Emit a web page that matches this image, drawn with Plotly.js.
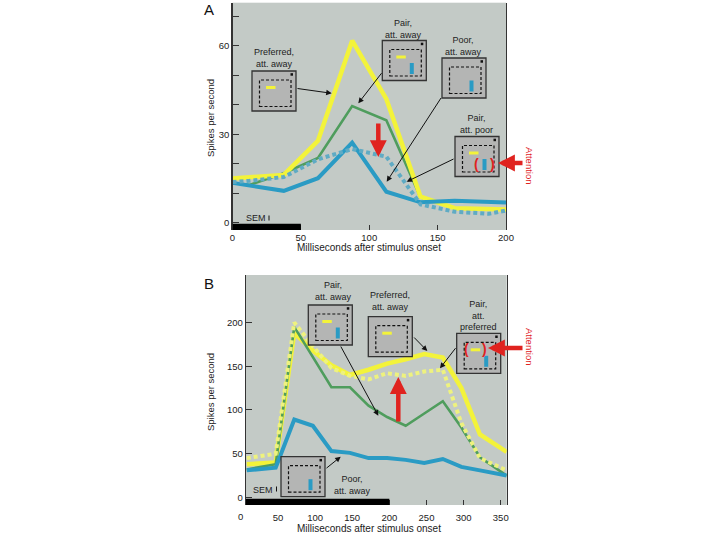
<!DOCTYPE html>
<html>
<head>
<meta charset="utf-8">
<script src="https://cdn.plot.ly/plotly-3.0.1.min.js"></script>
<style>
  html, body { margin: 0; padding: 0; background: #fff; }
  #chart { width: 720px; height: 540px; }
</style>
</head>
<body>
<div id="chart"></div>
<script>
// Panel A: time bins (ms) and firing rates (spikes/s)
var timeA = [0, 12.5, 37.5, 62.5, 87.5, 112.5, 137.5, 162.5, 187.5, 200];
var prefAwayA = [15, 15.4, 16.2, 27.8, 61.8, 42, 8.8, 4.9, 4.5, 4.5];
var pairAwayA = [13.5, 12.8, 16.8, 22, 39.6, 34.8, 8.6, 4.9, 4.5, 4.5];
var poorAwayA = [13.5, 12.5, 10.8, 15.1, 27.2, 10.5, 6.9, 7.4, 7.2, 6.8];
var pairPoorA = [13.8, 14.2, 15.5, 21.5, 25, 22.4, 6.2, 3.7, 3, 4.1];

// Panel B
var timeB = [8, 47, 72, 97, 122, 147, 172, 197, 222, 247, 272, 297, 322, 358];
var prefAwayB = [38, 40, 188, 168, 151, 140, 146, 153, 158, 164, 160, 125, 72, 52];
var pairAwayB = [32, 38, 195, 160, 126, 126, 105, 92, 82, 96, 110, 80, 46, 25];
var poorAwayB = [31, 34, 89, 82, 53, 51, 45, 45, 43, 39.5, 44, 35, 31, 25];
var pairPrefB = [45, 50, 200, 173, 148, 139, 135, 142, 139, 144, 146, 85, 45, 31];

// stimulus bars (ms)
var stimA = [0, 50];
var stimB = [0, 200];

var ticksA = [0, 50, 100, 150, 200];
var ticksB = [50, 100, 150, 200, 250, 300, 350];

var W = 720, H = 540;
var FONT = 'Liberation Sans, Arial, sans-serif';
var YELLOW = '#f3f33a', GREEN = '#4f9d5d', BLUE = '#2a9bc4',
    BLUE_DOT = '#5fabc4', YELLOW_DOT = '#eef27e', RED = '#e0231f';

function px(x) { return x / W; }
function py(y) { return 1 - y / H; }

function line(x, y, color, width, dash, xa, ya) {
  return {
    x: x, y: y, xaxis: xa, yaxis: ya, type: 'scatter', mode: 'lines',
    line: {color: color, width: width, dash: dash || 'solid'},
    hoverinfo: 'skip'
  };
}

var data = [
  line(timeA, pairAwayA, GREEN, 2.6, 'solid', 'x', 'y'),
  line(timeA, prefAwayA, YELLOW, 4.5, 'solid', 'x', 'y'),
  line(timeA, poorAwayA, BLUE, 4, 'solid', 'x', 'y'),
  line(timeA, pairPoorA, BLUE_DOT, 4, '4px,3px', 'x', 'y'),
  line(timeB, prefAwayB, YELLOW, 4.5, 'solid', 'x2', 'y2'),
  line(timeB, pairAwayB, GREEN, 2.6, 'solid', 'x2', 'y2'),
  line(timeB, pairPrefB, YELLOW_DOT, 4, '4px,3px', 'x2', 'y2'),
  line(timeB, poorAwayB, BLUE, 4, 'solid', 'x2', 'y2')
];

var shapes = [];
var annotations = [];

function rect(x0, y0, x1, y1, fill, lineColor, lw, dash) {
  shapes.push({
    type: 'rect', xref: 'paper', yref: 'paper',
    x0: px(x0), x1: px(x1), y0: py(y1), y1: py(y0),
    fillcolor: fill || 'rgba(0,0,0,0)',
    line: {color: lineColor || 'rgba(0,0,0,0)', width: lw || 0, dash: dash || 'solid'},
    layer: 'above'
  });
}

function text(t, cx, cy, size, opts) {
  var a = {
    xref: 'paper', yref: 'paper', x: px(cx), y: py(cy),
    text: t, showarrow: false, xanchor: 'center', yanchor: 'middle',
    font: {family: FONT, size: size || 9, color: '#222'}
  };
  for (var k in opts) a[k] = opts[k];
  annotations.push(a);
}

function arrow(hx, hy, tx, ty, color, width, size) {
  annotations.push({
    xref: 'paper', yref: 'paper', x: px(hx), y: py(hy),
    ax: tx - hx, ay: ty - hy, text: '', showarrow: true,
    arrowhead: 2, arrowsize: size || 1.1, arrowwidth: width || 1,
    arrowcolor: color || '#111', standoff: 0, startstandoff: 0
  });
}

var parenFont = {family: FONT, size: 14, color: RED, weight: 'bold'};

// little stimulus display insets
function inset(L, T, hasYellow, hasBlue, parens) {
  rect(L, T, L + 44, T + 40, '#b4b5b4', '#333', 1.3);
  rect(L + 7.5, T + 9, L + 39, T + 35.5, null, '#111', 1.2, '3px,2px');
  rect(L + 38.5, T + 2.2, L + 41, T + 4.7, '#111');
  if (hasYellow) rect(L + 14, T + 15, L + 23.5, T + 18, YELLOW);
  if (hasBlue) rect(L + 27.5, T + 22.5, L + 31.5, T + 33.5, BLUE);
  if (parens === 'blue') {
    text('(', L + 21, T + 27.5, 14, {font: parenFont});
    text(')', L + 37.5, T + 27.5, 14, {font: parenFont});
  } else if (parens === 'yellow') {
    text('(', L + 10, T + 16, 14, {font: parenFont});
    text(')', L + 27.5, T + 16, 14, {font: parenFont});
  }
}

// stimulus bars along the bottom of each panel
shapes.push({type: 'rect', xref: 'x', yref: 'y domain', x0: stimA[0], x1: stimA[1], y0: 0, y1: 0.027,
  fillcolor: '#000', line: {width: 0}, layer: 'above'});
shapes.push({type: 'rect', xref: 'x2', yref: 'y2 domain', x0: Math.max(stimB[0], 7), x1: stimB[1], y0: 0, y1: 0.027,
  fillcolor: '#000', line: {width: 0}, layer: 'above'});

// ---- panel A decorations
text('A', 209, 9, 15, {font: {family: FONT, size: 15, color: '#111'}});
text('Spikes per second', 210, 118, 9.5, {textangle: -90});
text('Milliseconds after stimulus onset', 369, 247, 10);
text('SEM', 256, 218, 9);
shapes.push({type: 'line', xref: 'paper', yref: 'paper', x0: px(269), x1: px(269), y0: py(215.5), y1: py(220.5),
  line: {color: '#111', width: 1}});

inset(252, 71, true, false);
text('Preferred,<br>att. away', 273.5, 58);
arrow(331.7, 93.3, 296, 88.3);

inset(382.3, 40.5, true, true);
text('Pair,<br>att. away', 403.5, 28.5);
arrow(358.3, 103.3, 382.7, 71.7);

inset(442, 58, false, true);
text('Poor,<br>att. away', 463.5, 45.5);
arrow(386.7, 181.7, 442, 96.5);

inset(455, 136.5, true, true, 'blue');
text('Pair,<br>att. poor', 476, 124);
arrow(406.7, 181.7, 455, 158.3);

arrow(378.3, 157, 378.3, 122, RED, 4.5, 0.75);
arrow(498, 163, 524, 163, RED, 4.5, 0.75);
text('Attention', 529, 166, 9.5, {textangle: 90, font: {family: FONT, size: 9.5, color: RED}});

// ---- panel B decorations
text('B', 209, 283, 15, {font: {family: FONT, size: 15, color: '#111'}});
text('Spikes per second', 210, 392, 9.5, {textangle: -90});
text('Milliseconds after stimulus onset', 369, 528, 10);
text('0', 241, 516.5, 9.5);
text('SEM', 262.5, 490, 9);
shapes.push({type: 'line', xref: 'paper', yref: 'paper', x0: px(276.5), x1: px(276.5), y0: py(486.5), y1: py(491.5),
  line: {color: '#111', width: 1}});

inset(308.3, 305, true, true);
text('Pair,<br>att. away', 333, 290.5);
arrow(378.3, 415.7, 340, 345);

inset(368.3, 316.7, true, false);
text('Preferred,<br>att. away', 389.5, 300.5);
arrow(427.3, 351, 412.7, 336);

inset(456.7, 333.3, true, true, 'yellow');
text('Pair,<br>att.<br>preferred', 478.5, 315.5);
arrow(440, 368.3, 456.7, 346.7);

inset(281, 456.7, false, true);
text('Poor,<br>att. away', 352.5, 484.5);
arrow(340.7, 456.7, 325, 469.3);

arrow(398.3, 377, 398.3, 423, RED, 4.5, 0.75);
arrow(488, 348, 524, 348, RED, 4.5, 0.75);
text('Attention', 530, 347, 9.5, {textangle: 90, font: {family: FONT, size: 9.5, color: RED}});

var axisFont = {family: FONT, size: 9.5, color: '#222'};

var layout = {
  width: W, height: H,
  margin: {l: 0, r: 0, t: 0, b: 0},
  paper_bgcolor: '#fff',
  plot_bgcolor: '#c3cac6',
  showlegend: false,
  font: {family: FONT, size: 9.5, color: '#222'},
  xaxis: {
    domain: [px(232.5), px(506)], range: [0, 200], anchor: 'y',
    tickvals: ticksA, ticks: 'inside', ticklen: 5, tickcolor: '#333',
    showgrid: false, zeroline: false, showline: false,
    tickfont: axisFont, fixedrange: true
  },
  yaxis: {
    domain: [py(230), py(2.7)], range: [-2.5, 74.7], anchor: 'x',
    tickvals: [0, 30, 60], ticks: 'inside', ticklen: 6, tickcolor: '#333',
    minor: {tickvals: [10, 20, 40, 50, 70], ticks: 'inside', ticklen: 6, tickcolor: '#333', showgrid: false},
    showgrid: false, zeroline: false, showline: true, mirror: true,
    linecolor: '#333', linewidth: 1.2, tickfont: axisFont, fixedrange: true
  },
  xaxis2: {
    domain: [px(246), px(506.7)], range: [7, 358], anchor: 'y2',
    tickvals: ticksB, ticks: 'inside', ticklen: 5, tickcolor: '#333',
    ticklabelstandoff: 5,
    showgrid: false, zeroline: false, showline: false,
    tickfont: axisFont, fixedrange: true
  },
  yaxis2: {
    domain: [py(505), py(275)], range: [-8.6, 254.3], anchor: 'x2',
    tickvals: [0, 50, 100, 150, 200], ticks: 'inside', ticklen: 6, tickcolor: '#333',
    showgrid: false, zeroline: false, showline: true, mirror: true,
    linecolor: '#333', linewidth: 1.2, tickfont: axisFont, fixedrange: true
  },
  shapes: shapes,
  annotations: annotations
};

Plotly.newPlot('chart', data, layout, {displayModeBar: false, staticPlot: true});
</script>
</body>
</html>
